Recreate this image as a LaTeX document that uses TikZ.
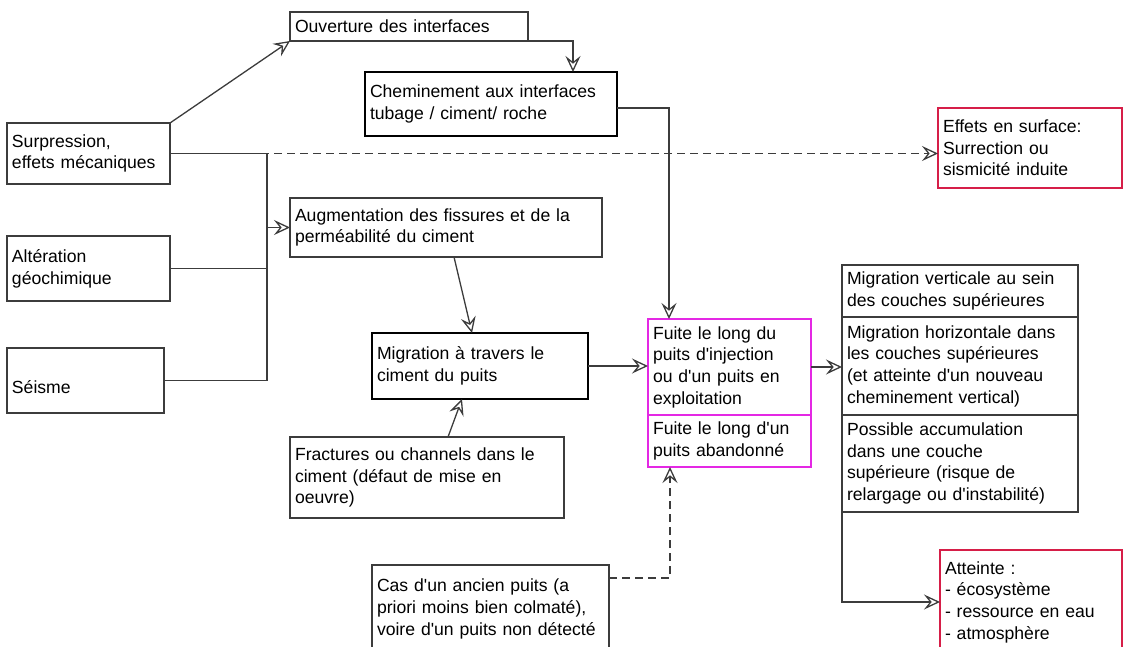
\documentclass[tikz,border=0pt]{standalone}
\usepackage{fontspec}
\setmainfont{Liberation Sans}[Ligatures=TeXOff]
\usetikzlibrary{arrows.meta,calc}

\definecolor{boxgray}{RGB}{60,60,60}
\definecolor{leakmag}{RGB}{228,40,228}
\definecolor{hitred}{RGB}{214,30,72}

\begin{document}
\begin{tikzpicture}[x=1pt,y=-1pt]
    \tikzset{box/.style={draw=boxgray, line width=1.2pt, anchor=north west, align=left,
                         inner xsep=5pt, inner ysep=0pt, outer sep=0pt,
                         font=\fontsize{17.6}{21.7}\selectfont}}
    \tikzset{thickbox/.style={box, draw=black, line width=2.6pt}}
    \tikzset{leakbox/.style={box, draw=leakmag, line width=2.6pt}}
    \tikzset{hitbox/.style={box, draw=hitred, line width=2.2pt}}
    \tikzset{link/.style={draw=boxgray, line width=1.3pt, -{Stealth[open, length=16pt, width=15pt, inset=6pt]}}}
    \useasboundingbox (0,0) rectangle (1124,646);

    % causes
    \node[box, text width=153, minimum height=61] (surp) at (7,123) {Surpression,\\effets mécaniques};
    \node[box, text width=153, minimum height=65] (alt) at (7,236) {Altération\\géochimique};
    \node[box, text width=147, minimum height=65] (seis) at (7,348) {\\[4pt]Séisme};

    % cheminements
    \node[box, text width=228, minimum height=29] (ouv) at (290,12) {Ouverture des interfaces};
    \node[thickbox, text width=242, minimum height=64] (chem) at (365,72) {Cheminement aux interfaces\\tubage / ciment/ roche};
    \node[box, text width=302, minimum height=59] (aug) at (290,198) {Augmentation des fissures et de la\\perméabilité du ciment};
    \node[thickbox, text width=206, minimum height=66] (mig) at (372,333) {Migration à travers le\\ciment du puits};
    \node[box, text width=264, minimum height=81] (frac) at (290,437) {Fractures ou channels dans le\\ciment (défaut de mise en\\oeuvre)};
    \node[box, text width=227, minimum height=88] (cas) at (372,565) {Cas d'un ancien puits (a\\priori moins bien colmaté),\\voire d'un puits non détecté\\[-8pt]};

    % fuites
    \node[leakbox, text width=153, minimum height=96] (fuiteA) at (648,319) {Fuite le long du\\puits d'injection\\ou d'un puits en\\exploitation};
    \node[leakbox, text width=153, minimum height=52] (fuiteB) at (648,415) {Fuite le long d'un\\puits abandonné};

    % effets
    \node[hitbox, text width=174, minimum height=80] (eff) at (938,108) {Effets en surface:\\Surrection ou\\sismicité induite};
    \node[box, text width=226, minimum height=52] (mver) at (842,265) {Migration verticale au sein\\des couches supérieures};
    \node[box, text width=226, minimum height=98] (mhor) at (842,317) {Migration horizontale dans\\les couches supérieures\\(et atteinte d'un nouveau\\cheminement vertical)};
    \node[box, text width=226, minimum height=97] (poss) at (842,415) {Possible accumulation\\dans une couche\\supérieure (risque de\\relargage ou d'instabilité)};
    \node[hitbox, text width=172, minimum height=104] (att) at (940,550) {Atteinte :\\- écosystème\\- ressource en eau\\- atmosphère};

    % bus des causes
    \coordinate (bustop) at (267,153.5);
    \coordinate (busbot) at (267,380.5);
    \draw[boxgray, line width=1.3pt] (surp.east) -- (bustop) -- (busbot);
    \draw[boxgray, line width=1.3pt] (alt.east) -- (alt.east -| bustop);
    \draw[boxgray, line width=1.3pt] (seis.east) -- (seis.east -| bustop);
    \draw[link] (aug.west -| bustop) -- (aug.west);

    \draw[link] (surp.north east) -- (ouv.south west);
    \draw[link] (ouv.south east) -| ([xshift=-44pt]chem.north east);
    \draw[link] ([yshift=-4pt]chem.east) -| ([xshift=21pt]fuiteA.north west);
    \draw[link, dashed, dash pattern=on 8pt off 5pt] (surp.east) -- (surp.east -| eff.west);
    \draw[link] ([xshift=8pt]aug.south) -- ([xshift=-8pt]mig.north);
    \draw[link] ([xshift=21pt]frac.north) -- ([xshift=-18pt]mig.south);
    \draw[link] (mig.east) -- (mig.east -| fuiteA.west);
    \draw[link] (fuiteA.east) -- (fuiteA.east -| mhor.west);
    \draw[link, dashed, dash pattern=on 8pt off 5pt] ([yshift=-13pt]cas.north east) -| ([xshift=22pt]fuiteB.south west);
    \draw[link] (poss.south west) |- (att.west);
\end{tikzpicture}
\end{document}
